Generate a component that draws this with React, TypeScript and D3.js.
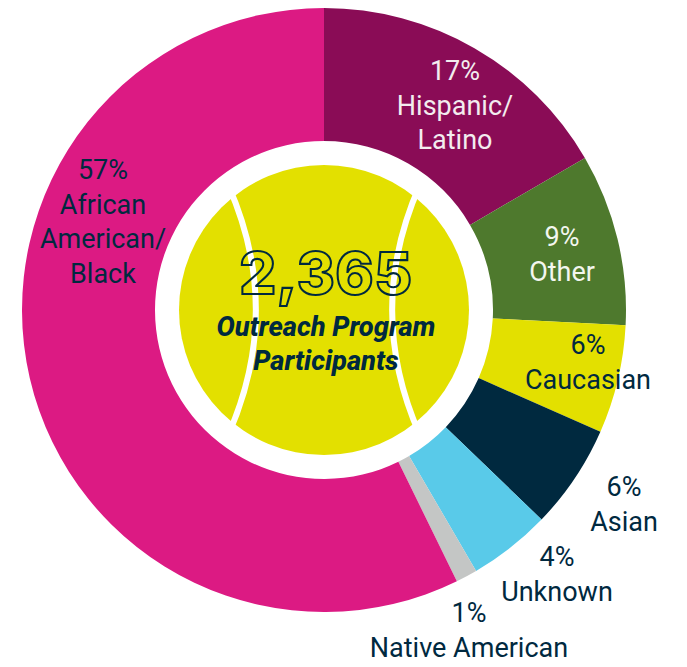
import React from "react";
import * as d3 from "d3";

const categories = ["Hispanic/Latino", "Other", "Caucasian", "Asian", "Unknown", "Native American", "African American/Black"];
const values = [16.6, 9.2, 5.8, 5.6, 4.4, 1.15, 57.25];
const colors = ["#8a0c56", "#4e792d", "#e3e000", "#00293f", "#59cae9", "#c4c6c5", "#dc1a83"];

const NAVY = "#00293f";
const WHITE = "#ffffff";

const labels: { lines: string[]; x: number; y: number; fill: string }[] = [
  { lines: ["17%", "Hispanic/", "Latino"], x: 455, y: 80, fill: "#f3ecef" },
  { lines: ["9%", "Other"], x: 562, y: 246, fill: "#f3f6ef" },
  { lines: ["6%", "Caucasian"], x: 588, y: 354, fill: NAVY },
  { lines: ["6%", "Asian"], x: 624, y: 496, fill: NAVY },
  { lines: ["4%", "Unknown"], x: 557, y: 566, fill: NAVY },
  { lines: ["1%", "Native American"], x: 469, y: 622, fill: NAVY },
  { lines: ["57%", "African", "American/", "Black"], x: 103, y: 179, fill: NAVY },
];

const CX = 324;
const CY = 310;
const R_OUT = 302;
const R_IN = 169;
const R_BALL = 145;

function seam(side: number) {
  const p = d3.path();
  const x = d3.scaleLinear().domain([-1, 1]).range([CX - R_BALL, CX + R_BALL]);
  const y = d3.scaleLinear().domain([-1, 1]).range([CY - R_BALL, CY + R_BALL]);
  p.moveTo(x(side * 0.66), y(-0.86));
  p.quadraticCurveTo(x(side * 0.28), y(0), x(side * 0.66), y(0.86));
  return p.toString();
}

export default function App() {
  const pie = d3.pie<number>().sort(null).value((d) => d);
  const arc = d3.arc<d3.PieArcDatum<number>>().innerRadius(R_IN).outerRadius(R_OUT);
  const arcs = pie(values);
  return (
    <svg
      width={687}
      height={667}
      viewBox="0 0 687 667"
      style={{ position: "absolute", left: 0, top: 0, background: "#fff" }}
      fontFamily="Roboto"
    >
      <g transform={`translate(${CX},${CY})`}>
        {arcs.map((a, i) => (
          <path key={categories[i]} d={arc(a) ?? ""} fill={colors[i]} />
        ))}
      </g>
      <circle cx={CX} cy={CY} r={R_BALL} fill="#e3e000" />
      <path d={seam(-1)} fill="none" stroke={WHITE} strokeWidth={6} />
      <path d={seam(1)} fill="none" stroke={WHITE} strokeWidth={6} />
      {labels.map((l) => (
        <text key={l.lines.join()} textAnchor="middle" fontSize={27} fill={l.fill}>
          {l.lines.map((t, i) => (
            <tspan key={t} x={l.x} y={l.y + i * 34.5}>
              {t}
            </tspan>
          ))}
        </text>
      ))}
      <text
        x={326}
        y={294}
        textAnchor="middle"
        fontFamily="Inter"
        fontWeight={800}
        fontSize={58}
        letterSpacing={0.6}
        fill="none"
        stroke={NAVY}
        strokeWidth={2.1}
      >
        2,365
      </text>
      <text textAnchor="middle" fontSize={27.3} fontWeight={800} fontStyle="italic" fill={NAVY}>
        <tspan x={326} y={336}>Outreach Program</tspan>
        <tspan x={326} y={370}>Participants</tspan>
      </text>
    </svg>
  );
}
